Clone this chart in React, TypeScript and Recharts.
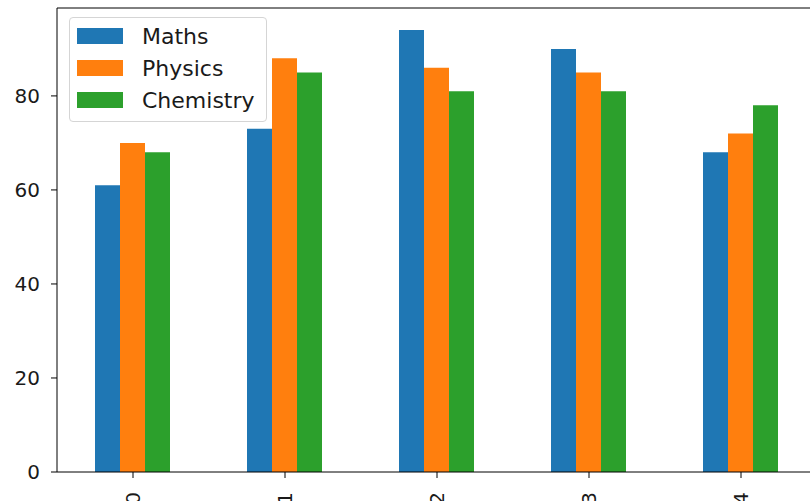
import { BarChart, Bar, XAxis, YAxis, Legend, ReferenceLine } from "recharts";

// scores per student index
const students = ["0", "1", "2", "3", "4"];
const maths = [61, 73, 94, 90, 68];
const physics = [70, 88, 86, 85, 72];
const chemistry = [68, 85, 81, 81, 78];

const seriesNames = ["Maths", "Physics", "Chemistry"];
const seriesColors = ["#1f77b4", "#ff7f0e", "#2ca02c"];
const yTicks = [0, 20, 40, 60, 80];
const yMax = 98.7;

const data = students.map((name, i) => ({
  name,
  Maths: maths[i],
  Physics: physics[i],
  Chemistry: chemistry[i],
}));

const FONT = "'DejaVu Sans', sans-serif";
const TEXT = "#1a1a1a";

const RotatedTick = (props: any) => {
  const { x, y, payload } = props;
  return (
    <g transform={`translate(${x},${y + 12})`}>
      <text
        transform="rotate(-90)"
        textAnchor="end"
        dominantBaseline="central"
        fontFamily={FONT}
        fontSize={20}
        fill={TEXT}
      >
        {payload.value}
      </text>
    </g>
  );
};

const LegendBox = () => (
  <div
    style={{
      width: 196,
      height: 101,
      border: "1px solid #d5d5d5",
      borderRadius: 4,
      background: "rgba(255,255,255,0.8)",
      paddingTop: 2,
      boxSizing: "content-box",
      fontFamily: FONT,
      fontSize: 22,
      color: TEXT,
    }}
  >
    {seriesNames.map((s, i) => (
      <div key={s} style={{ display: "flex", alignItems: "center", height: 32 }}>
        <div style={{ width: 46, height: 16, marginLeft: 7, marginRight: 19, background: seriesColors[i] }} />
        <span>{s}</span>
      </div>
    ))}
  </div>
);

export default function App() {
  return (
    <div style={{ position: "absolute", left: 0, top: 0, width: 810, height: 501, overflow: "hidden", background: "#fff" }}>
      <BarChart
        width={830}
        height={501}
        data={data}
        margin={{ top: 8, right: 13, left: 0, bottom: 0 }}
        barCategoryGap="25%"
        barGap={0}
      >
        <XAxis
          dataKey="name"
          height={29}
          tickSize={6}
          tick={<RotatedTick />}
          axisLine={{ stroke: "#000", strokeWidth: 1 }}
          tickLine={{ stroke: "#000", strokeWidth: 1 }}
          interval={0}
        />
        <YAxis
          width={57}
          domain={[0, yMax]}
          ticks={yTicks}
          tickSize={6}
          tickMargin={11}
          allowDataOverflow
          axisLine={{ stroke: "#000", strokeWidth: 1 }}
          tickLine={{ stroke: "#000", strokeWidth: 1 }}
          tick={{ fontFamily: FONT, fontSize: 20, fill: TEXT }}
        />
        <ReferenceLine y={yMax} stroke="#000" strokeWidth={1} />
        <Legend
          layout="horizontal"
          verticalAlign="middle"
          align="center"
          content={<LegendBox />}
          wrapperStyle={{ top: 17, left: 69, width: "auto", height: "auto" }}
        />
        {seriesNames.map((s, i) => (
          <Bar key={s} dataKey={s} fill={seriesColors[i]} isAnimationActive={false} />
        ))}
      </BarChart>
    </div>
  );
}
